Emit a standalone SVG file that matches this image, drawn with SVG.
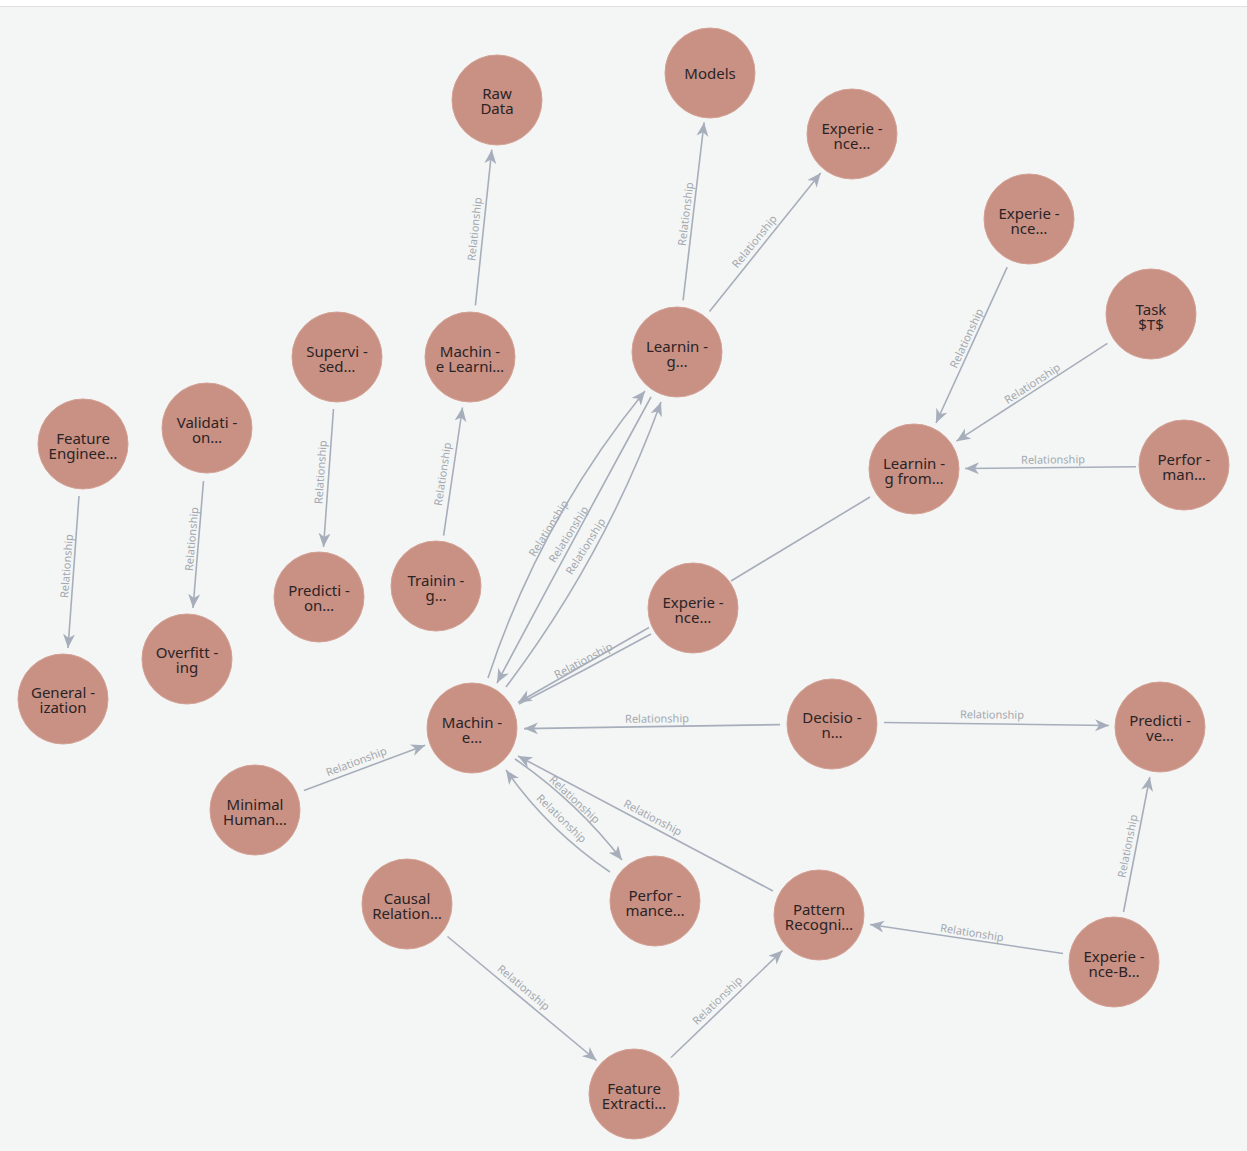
<svg xmlns="http://www.w3.org/2000/svg" width="1247" height="1151" viewBox="0 0 1247 1151">
<style>
.node circle{fill:#c99084;stroke:#d3a194;stroke-width:1}
.node text{font-family:"Noto Sans","Open Sans",sans-serif;font-size:15px;fill:#2b2424;text-anchor:middle}
.edge{fill:none;stroke:#a7aebb;stroke-width:1.6}
.lbl{font-family:"Noto Sans","Open Sans",sans-serif;font-size:11px;fill:#a3a8b0;text-anchor:middle;dominant-baseline:central}
</style>
<defs>
<marker id="arr" markerUnits="userSpaceOnUse" markerWidth="16" markerHeight="14" refX="14" refY="6" orient="auto">
<path d="M0,0 L14,6 L0,12 L4,6 Z" fill="#a7aebb"/>
</marker>
</defs>
<rect x="0" y="0" width="1247" height="1151" fill="#f4f6f5"/>
<rect x="0" y="0" width="1247" height="6" fill="#ffffff"/>
<rect x="0" y="6" width="1247" height="1" fill="#e0e2e1"/>

<g id="connectors">
<line class="edge" x1="475.4" y1="305.3" x2="491.8" y2="149.7" marker-end="url(#arr)"/>
<line class="edge" x1="683.1" y1="300.4" x2="704.1" y2="122.4" marker-end="url(#arr)"/>
<line class="edge" x1="709.5" y1="311.4" x2="820.7" y2="173" marker-end="url(#arr)"/>
<line class="edge" x1="1007.2" y1="267.2" x2="936" y2="423" marker-end="url(#arr)"/>
<line class="edge" x1="1107.4" y1="343.3" x2="956.5" y2="441.2" marker-end="url(#arr)"/>
<line class="edge" x1="1136" y1="466.8" x2="965" y2="468.5" marker-end="url(#arr)"/>
<line class="edge" x1="333.5" y1="409" x2="323.5" y2="547" marker-end="url(#arr)"/>
<line class="edge" x1="443.6" y1="535.6" x2="462.5" y2="407.5" marker-end="url(#arr)"/>
<line class="edge" x1="203.5" y1="481" x2="193" y2="608" marker-end="url(#arr)"/>
<line class="edge" x1="79" y1="496" x2="68" y2="648" marker-end="url(#arr)"/>
<line class="edge" x1="870" y1="497" x2="731" y2="581"/>
<line class="edge" x1="649" y1="627.5" x2="518" y2="702.5" marker-end="url(#arr)"/>
<path class="edge" d="M651,634 Q585,670 519,704"/>
<path class="edge" d="M488,678 Q540,520 645,391" marker-end="url(#arr)"/>
<path class="edge" d="M651,397 Q574,538 497,683" marker-end="url(#arr)"/>
<path class="edge" d="M506,687 Q605,556 661,402" marker-end="url(#arr)"/>
<line class="edge" x1="780" y1="724.6" x2="524" y2="728.6" marker-end="url(#arr)"/>
<line class="edge" x1="884" y1="722.5" x2="1109" y2="725.5" marker-end="url(#arr)"/>
<line class="edge" x1="304" y1="790.5" x2="425.2" y2="745.2" marker-end="url(#arr)"/>
<path class="edge" d="M515,759 Q576,801 622,860" marker-end="url(#arr)"/>
<path class="edge" d="M610,872 Q548,830 506,770" marker-end="url(#arr)"/>
<line class="edge" x1="773" y1="891" x2="518" y2="756" marker-end="url(#arr)"/>
<line class="edge" x1="447.5" y1="936.5" x2="596.5" y2="1060.5" marker-end="url(#arr)"/>
<line class="edge" x1="671" y1="1057.5" x2="782.5" y2="950.5" marker-end="url(#arr)"/>
<line class="edge" x1="1063" y1="953.5" x2="870" y2="924.5" marker-end="url(#arr)"/>
<line class="edge" x1="1123.5" y1="912" x2="1149.8" y2="777" marker-end="url(#arr)"/>

<text class="lbl" transform="translate(474,229) rotate(-84)">Relationship</text>
<text class="lbl" transform="translate(685,214) rotate(-83)">Relationship</text>
<text class="lbl" transform="translate(754,241) rotate(-51)">Relationship</text>
<text class="lbl" transform="translate(966,338) rotate(-65)">Relationship</text>
<text class="lbl" transform="translate(1032,383) rotate(-33)">Relationship</text>
<text class="lbl" transform="translate(1053,459) rotate(-0.5)">Relationship</text>
<text class="lbl" transform="translate(320,472) rotate(-86)">Relationship</text>
<text class="lbl" transform="translate(442,474) rotate(-81.5)">Relationship</text>
<text class="lbl" transform="translate(191,539) rotate(-85)">Relationship</text>
<text class="lbl" transform="translate(66,566) rotate(-85.5)">Relationship</text>
<text class="lbl" transform="translate(583,660) rotate(-28)">Relationship</text>
<text class="lbl" transform="translate(548,528) rotate(-58)">Relationship</text>
<text class="lbl" transform="translate(568,534) rotate(-58)">Relationship</text>
<text class="lbl" transform="translate(585,546) rotate(-58)">Relationship</text>
<text class="lbl" transform="translate(657,718) rotate(-0.5)">Relationship</text>
<text class="lbl" transform="translate(992,714) rotate(0.5)">Relationship</text>
<text class="lbl" transform="translate(356,761) rotate(-20.7)">Relationship</text>
<text class="lbl" transform="translate(575,799) rotate(43)">Relationship</text>
<text class="lbl" transform="translate(562,818) rotate(44)">Relationship</text>
<text class="lbl" transform="translate(653,817) rotate(28)">Relationship</text>
<text class="lbl" transform="translate(524,987) rotate(40)">Relationship</text>
<text class="lbl" transform="translate(717,1000) rotate(-44)">Relationship</text>
<text class="lbl" transform="translate(972,932) rotate(9)">Relationship</text>
<text class="lbl" transform="translate(1127,846) rotate(-79)">Relationship</text>
</g>

<g id="n-rawdata" class="node"><circle cx="497" cy="100" r="45"/><text x="497" y="99">Raw<tspan x="497" dy="15">Data</tspan></text></g>
<g id="n-models" class="node"><circle cx="710" cy="73" r="45"/><text x="710" y="79">Models</text></g>
<g id="n-exp-top" class="node"><circle cx="852" cy="134" r="45"/><text x="852" y="134">Experie -<tspan x="852" dy="15">nce…</tspan></text></g>
<g id="n-exp-rt" class="node"><circle cx="1029" cy="219" r="45"/><text x="1029" y="219">Experie -<tspan x="1029" dy="15">nce…</tspan></text></g>
<g id="n-task" class="node"><circle cx="1151" cy="314" r="45"/><text x="1151" y="315">Task<tspan x="1151" dy="15">$T$</tspan></text></g>
<g id="n-supervised" class="node"><circle cx="337" cy="357" r="45"/><text x="337" y="357">Supervi -<tspan x="337" dy="15">sed…</tspan></text></g>
<g id="n-mlearni" class="node"><circle cx="470" cy="357" r="45"/><text x="470" y="357">Machin -<tspan x="470" dy="15">e Learni…</tspan></text></g>
<g id="n-learning" class="node"><circle cx="677" cy="352" r="45"/><text x="677" y="352">Learnin -<tspan x="677" dy="15">g…</tspan></text></g>
<g id="n-feateng" class="node"><circle cx="83" cy="444" r="45"/><text x="83" y="444">Feature<tspan x="83" dy="15">Enginee…</tspan></text></g>
<g id="n-validation" class="node"><circle cx="207" cy="428" r="45"/><text x="207" y="428">Validati -<tspan x="207" dy="15">on…</tspan></text></g>
<g id="n-learnfrom" class="node"><circle cx="914" cy="469" r="45"/><text x="914" y="469">Learnin -<tspan x="914" dy="15">g from…</tspan></text></g>
<g id="n-perfman" class="node"><circle cx="1184" cy="465" r="45"/><text x="1184" y="465">Perfor -<tspan x="1184" dy="15">man…</tspan></text></g>
<g id="n-prediction" class="node"><circle cx="319" cy="597" r="45"/><text x="319" y="596">Predicti -<tspan x="319" dy="15">on…</tspan></text></g>
<g id="n-training" class="node"><circle cx="436" cy="586" r="45"/><text x="436" y="586">Trainin -<tspan x="436" dy="15">g…</tspan></text></g>
<g id="n-exp-mid" class="node"><circle cx="693" cy="608" r="45"/><text x="693" y="608">Experie -<tspan x="693" dy="15">nce…</tspan></text></g>
<g id="n-overfitting" class="node"><circle cx="187" cy="659" r="45"/><text x="187" y="658">Overfitt -<tspan x="187" dy="15">ing</tspan></text></g>
<g id="n-general" class="node"><circle cx="63" cy="699" r="45"/><text x="63" y="698">General -<tspan x="63" dy="15">ization</tspan></text></g>
<g id="n-machine" class="node"><circle cx="472" cy="728" r="45"/><text x="472" y="728">Machin -<tspan x="472" dy="15">e…</tspan></text></g>
<g id="n-decision" class="node"><circle cx="832" cy="724" r="45"/><text x="832" y="723">Decisio -<tspan x="832" dy="15">n…</tspan></text></g>
<g id="n-predictive" class="node"><circle cx="1160" cy="727" r="45"/><text x="1160" y="726">Predicti -<tspan x="1160" dy="15">ve…</tspan></text></g>
<g id="n-minimal" class="node"><circle cx="255" cy="810" r="45"/><text x="255" y="810">Minimal<tspan x="255" dy="15">Human…</tspan></text></g>
<g id="n-perfmance" class="node"><circle cx="655" cy="901" r="45"/><text x="655" y="901">Perfor -<tspan x="655" dy="15">mance…</tspan></text></g>
<g id="n-causal" class="node"><circle cx="407" cy="904" r="45"/><text x="407" y="904">Causal<tspan x="407" dy="15">Relation…</tspan></text></g>
<g id="n-pattern" class="node"><circle cx="819" cy="915" r="45"/><text x="819" y="915">Pattern<tspan x="819" dy="15">Recogni…</tspan></text></g>
<g id="n-exp-b" class="node"><circle cx="1114" cy="962" r="45"/><text x="1114" y="962">Experie -<tspan x="1114" dy="15">nce-B…</tspan></text></g>
<g id="n-featext" class="node"><circle cx="634" cy="1094" r="45"/><text x="634" y="1094">Feature<tspan x="634" dy="15">Extracti…</tspan></text></g>
</svg>
